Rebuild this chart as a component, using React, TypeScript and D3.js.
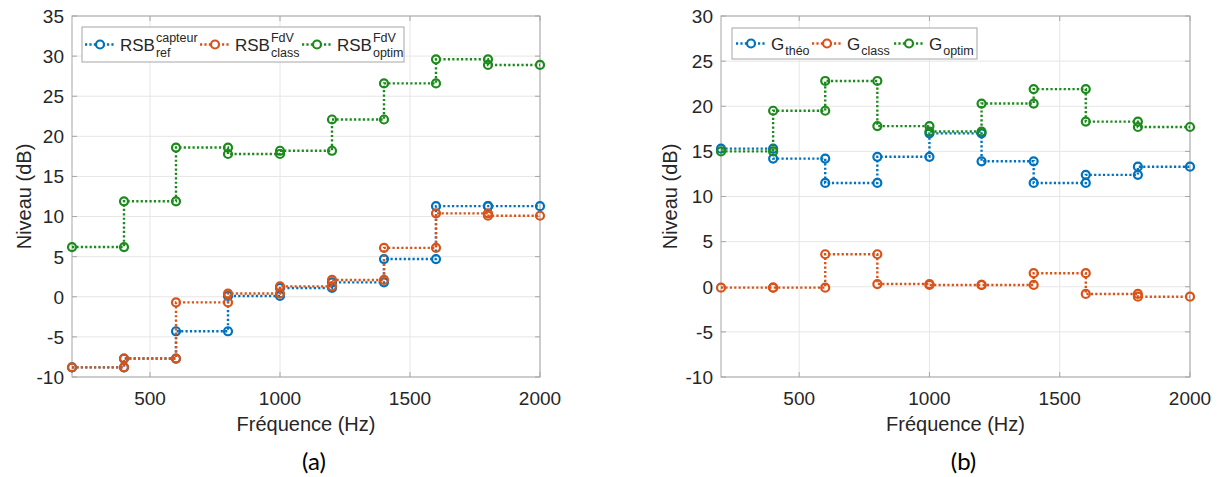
import React from "react";
import * as d3 from "d3";

const freqEdges = [200, 400, 600, 800, 1000, 1200, 1400, 1600, 1800, 2000];
const xTicks = [500, 1000, 1500, 2000];

const rsbRef = [-8.8, -7.7, -4.3, 0.1, 1.1, 1.8, 4.7, 11.3, 11.3];
const rsbClass = [-8.8, -7.7, -0.7, 0.4, 1.3, 2.1, 6.1, 10.4, 10.1];
const rsbOptim = [6.2, 11.9, 18.6, 17.8, 18.2, 22.1, 26.6, 29.6, 28.9];
const yTicksA = [-10, -5, 0, 5, 10, 15, 20, 25, 30, 35];

const gTheo = [15.3, 14.2, 11.5, 14.4, 17.0, 13.9, 11.5, 12.4, 13.3];
const gClass = [-0.1, -0.1, 3.6, 0.3, 0.2, 0.2, 1.5, -0.8, -1.1];
const gOptim = [15.0, 19.5, 22.8, 17.8, 17.2, 20.3, 21.9, 18.3, 17.7];
const yTicksB = [-10, -5, 0, 5, 10, 15, 20, 25, 30];

const legendA = [
  { main: "RSB", sup: "capteur", sub: "ref" },
  { main: "RSB", sup: "FdV", sub: "class" },
  { main: "RSB", sup: "FdV", sub: "optim" },
];
const legendB = [
  { main: "G", sup: "", sub: "théo" },
  { main: "G", sup: "", sub: "class" },
  { main: "G", sup: "", sub: "optim" },
];

const COLORS = ["#0072BD", "#D95319", "#1c8a1c"];
const FONT = "Liberation Sans";
const TEXT = "#262626";

function measure(text: string, size: number) {
  const c = document.createElement("canvas").getContext("2d");
  if (!c) return text.length * size * 0.6;
  c.font = `${size}px "Liberation Sans"`;
  return c.measureText(text).width;
}

type Item = { main: string; sup: string; sub: string };

function Panel(props: {
  left: number;
  right: number;
  top: number;
  bottom: number;
  yDomain: [number, number];
  yTicks: number[];
  series: number[][];
  legend: Item[];
  legendBox: { x: number; y: number; w: number; h: number };
  legendMarkers: number[];
  caption: string;
  yLabelX: number;
}) {
  const { left, right, top, bottom, yDomain, yTicks, series, legend, legendBox, legendMarkers, caption, yLabelX } = props;
  const x = d3.scaleLinear().domain([200, 2000]).range([left, right]);
  const y = d3.scaleLinear().domain(yDomain).range([bottom, top]);
  const line = d3
    .line<[number, number]>()
    .x((d) => x(d[0]))
    .y((d) => y(d[1]));

  const stepPoints = (vals: number[]) => {
    const pts: [number, number][] = [];
    vals.forEach((v, i) => {
      pts.push([freqEdges[i], v]);
      pts.push([freqEdges[i + 1], v]);
    });
    return pts;
  };

  const cx = (left + right) / 2;
  const cy = (top + bottom) / 2;

  return (
    <g>
      {yTicks.map((t) => (
        <line key={"gy" + t} x1={left} x2={right} y1={y(t)} y2={y(t)} stroke="#e6e6e6" strokeWidth={1} />
      ))}
      {xTicks.map((t) => (
        <line key={"gx" + t} x1={x(t)} x2={x(t)} y1={top} y2={bottom} stroke="#e6e6e6" strokeWidth={1} />
      ))}
      <rect x={left} y={top} width={right - left} height={bottom - top} fill="none" stroke="#a6a6a6" strokeWidth={1} />
      {yTicks.map((t) => (
        <g key={"ty" + t}>
          <line x1={left} x2={left + 5} y1={y(t)} y2={y(t)} stroke="#a6a6a6" />
          <line x1={right} x2={right - 5} y1={y(t)} y2={y(t)} stroke="#a6a6a6" />
          <text x={left - 8} y={y(t)} dy="0.36em" textAnchor="end" fontSize={19} fill={TEXT} fontFamily={FONT}>
            {t}
          </text>
        </g>
      ))}
      {xTicks.map((t) => (
        <g key={"tx" + t}>
          <line x1={x(t)} x2={x(t)} y1={bottom} y2={bottom - 5} stroke="#a6a6a6" />
          <line x1={x(t)} x2={x(t)} y1={top} y2={top + 5} stroke="#a6a6a6" />
          <text x={x(t)} y={bottom + 28} textAnchor="middle" fontSize={19} fill={TEXT} fontFamily={FONT}>
            {t}
          </text>
        </g>
      ))}
      {series.map((vals, si) => {
        const pts = stepPoints(vals);
        return (
          <g key={"s" + si}>
            <path d={line(pts) || ""} fill="none" stroke={COLORS[si]} strokeWidth={2.4} strokeDasharray="2.2 2.2" />
            {pts.map((p, pi) => (
              <circle key={pi} cx={x(p[0])} cy={y(p[1])} r={4} fill="none" stroke={COLORS[si]} strokeWidth={2.2} />
            ))}
          </g>
        );
      })}
      <rect
        x={legendBox.x}
        y={legendBox.y}
        width={legendBox.w}
        height={legendBox.h}
        fill="#fff"
        stroke="#a6a6a6"
        strokeWidth={1}
      />
      {legend.map((it, i) => {
        const mx = legendMarkers[i];
        const ly = legendBox.y + legendBox.h / 2;
        const tx = mx + 20;
        const mw = measure(it.main, 17);
        return (
          <g key={"l" + i}>
            <line x1={mx - 15} x2={mx + 15} y1={ly} y2={ly} stroke={COLORS[i]} strokeWidth={2.4} strokeDasharray="2.2 2.2" />
            <circle cx={mx} cy={ly} r={4} fill="#fff" stroke={COLORS[i]} strokeWidth={2.2} />
            <text x={tx} y={ly + 6} fontSize={17} fill={TEXT} fontFamily={FONT}>
              {it.main}
            </text>
            {it.sup && (
              <text x={tx + mw + 1} y={ly - 3} fontSize={12.5} fill={TEXT} fontFamily={FONT}>
                {it.sup}
              </text>
            )}
            <text x={tx + mw + 1} y={ly + (it.sup ? 12 : 11)} fontSize={12.5} fill={TEXT} fontFamily={FONT}>
              {it.sub}
            </text>
          </g>
        );
      })}
      <text x={cx} y={431} textAnchor="middle" fontSize={20} fill={TEXT} fontFamily={FONT}>
        Fréquence (Hz)
      </text>
      <text
        transform={`translate(${yLabelX},${cy}) rotate(-90)`}
        textAnchor="middle"
        dy="0.35em"
        fontSize={20}
        fill={TEXT}
        fontFamily={FONT}
      >
        Niveau (dB)
      </text>
      <text x={cx + 8} y={470} textAnchor="middle" fontSize={24} fill="#000" fontFamily="Lato, 'Open Sans', sans-serif">
        {caption}
      </text>
    </g>
  );
}

export default function App() {
  return (
    <svg
      width={1219}
      height={477}
      style={{ position: "absolute", left: 0, top: 0, background: "#fff" }}
      xmlns="http://www.w3.org/2000/svg"
    >
      <rect width={1219} height={477} fill="#fff" />
      <Panel
        left={72}
        right={540}
        top={16}
        bottom={377}
        yDomain={[-10, 35]}
        yTicks={yTicksA}
        series={[rsbRef, rsbClass, rsbOptim]}
        legend={legendA}
        legendBox={{ x: 82, y: 27, w: 322, h: 35 }}
        legendMarkers={[100, 215, 317]}
        caption="(a)"
        yLabelX={24}
      />
      <Panel
        left={721}
        right={1190}
        top={16}
        bottom={377}
        yDomain={[-10, 30]}
        yTicks={yTicksB}
        series={[gTheo, gClass, gOptim]}
        legend={legendB}
        legendBox={{ x: 732, y: 28, w: 245, h: 31 }}
        legendMarkers={[751, 827, 909]}
        caption="(b)"
        yLabelX={670}
      />
    </svg>
  );
}
